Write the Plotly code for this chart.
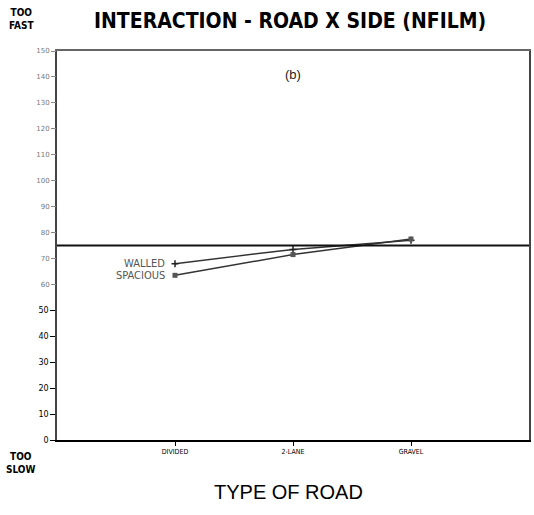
import plotly.graph_objects as go

categories = ["DIVIDED", "2-LANE", "GRAVEL"]
cat_pos = [1, 2, 3]
walled = [68, 73.5, 77]
spacious = [63.5, 71.5, 77.5]
reference_level = 75
low_ticks = [0, 10, 20, 30, 40, 50]
high_ticks = [60, 70, 80, 90, 100, 110, 120, 130, 140, 150]

W, H = 534, 515
ML, MR, MT, MB = 57, 5, 51, 75
pw, ph = W - ML - MR, H - MT - MB
def px(xp): return (xp - ML) / pw
def py(yp): return (H - MB - yp) / ph

fig = go.Figure()
fig.add_trace(go.Scatter(x=cat_pos, y=walled, mode="lines+markers",
                         line=dict(color="#333", width=1.5),
                         marker=dict(symbol="cross-thin", size=5, color="#222", line=dict(width=1.5, color="#222")),
                         showlegend=False))
fig.add_trace(go.Scatter(x=cat_pos, y=spacious, mode="lines+markers",
                         line=dict(color="#333", width=1.5),
                         marker=dict(symbol="square", size=5, color="#555"),
                         showlegend=False))
fig.add_trace(go.Scatter(x=[0, 4], y=[reference_level, reference_level], mode="lines",
                         line=dict(color="#111", width=2), showlegend=False))
fig.add_trace(go.Scatter(x=[None], y=[None], xaxis="x2", yaxis="y2", showlegend=False))

cond = "DejaVu Sans Condensed, Liberation Sans Narrow"
def note(text, xp, yp, size, family=cond, color="#000"):
    return dict(text=text, x=px(xp), y=py(yp), xref="paper", yref="paper",
                xanchor="center", yanchor="middle", showarrow=False,
                font=dict(size=size, family=family, color=color))

fig.update_layout(
    width=W, height=H,
    margin=dict(l=ML, r=MR, t=MT, b=MB, autoexpand=False),
    paper_bgcolor="white", plot_bgcolor="white",
    font=dict(family="Liberation Sans, Arial", color="#000"),
    xaxis=dict(range=[0, 4], tickvals=cat_pos, ticktext=categories, automargin=False,
               tickfont=dict(size=7, family=cond, color="#000"),
               ticks="outside", ticklen=4, tickcolor="#000",
               showgrid=False, zeroline=False, showline=True, linecolor="#000", linewidth=2),
    xaxis2=dict(range=[0, 4], overlaying="x", side="top", automargin=False,
                showticklabels=False, ticks="", showgrid=False, zeroline=False,
                showline=True, linecolor="#666", linewidth=1.5),
    yaxis=dict(range=[0, 150], tickvals=low_ticks, ticktext=[str(v) for v in low_ticks], automargin=False,
               tickfont=dict(size=8, family="DejaVu Sans", color="#000"),
               ticks="outside", ticklen=5, tickcolor="#000",
               showgrid=False, zeroline=False, showline=True, linecolor="#444", linewidth=1.5,
               mirror=True),
    yaxis2=dict(range=[0, 150], overlaying="y", side="left", automargin=False,
                tickvals=high_ticks, ticktext=[str(v) for v in high_ticks],
                tickfont=dict(size=7, family="DejaVu Sans", color="#777"),
                ticks="outside", ticklen=5, tickcolor="#888",
                showgrid=False, zeroline=False, showline=False),
    annotations=[
        dict(text="(b)", x=2.0, y=141, xref="x", yref="y", showarrow=False,
             font=dict(size=13, color="#222")),
        dict(text="WALLED", x=0.93, y=walled[0], xref="x", yref="y", xanchor="right",
             showarrow=False, font=dict(size=11, color="#555", family=cond)),
        dict(text="SPACIOUS", x=0.93, y=spacious[0], xref="x", yref="y", xanchor="right",
             showarrow=False, font=dict(size=11, color="#555", family=cond)),
        note("<b>INTERACTION - ROAD X SIDE (NFILM)</b>", 290, 21, 21),
        note("<b>TOO<br>FAST</b>", 21, 19, 10),
        note("<b>TOO<br>SLOW</b>", 21, 463, 10),
        note("TYPE OF ROAD", 288, 492, 20, family="Liberation Sans, Arial"),
    ],
)

fig.write_html("out.html", config={"responsive": False, "displayModeBar": False},
               post_script="document.body.style.margin='0';document.body.style.overflow='hidden';")
